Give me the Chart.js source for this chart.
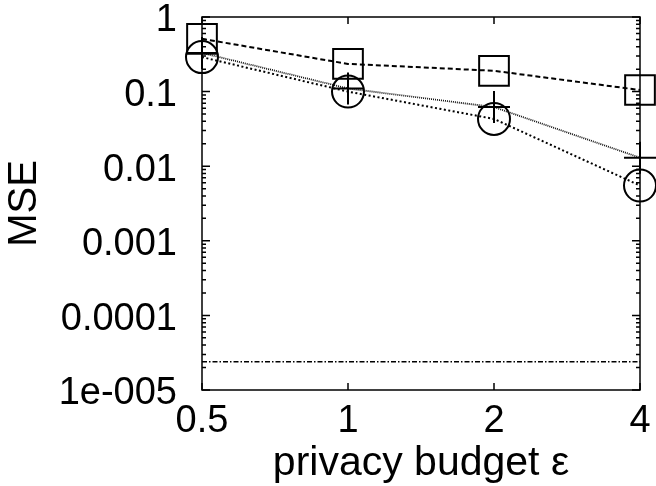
<!DOCTYPE html>
<html>
<head>
<meta charset="utf-8">
<script src="https://cdn.jsdelivr.net/npm/chart.js@4.4.1/dist/chart.umd.min.js"></script>
<style>
  html, body { margin: 0; padding: 0; background: #fff; }
  #wrap { width: 656px; height: 486px; }
</style>
</head>
<body>
<div id="wrap"><canvas id="myChart" width="656" height="486"></canvas></div>
<script>
'use strict';

// privacy budget values on the x axis
let epsilons = ['0.5', '1', '2', '4'];

// MSE per method
let squareMse = [0.51, 0.235, 0.19, 0.105];
let plusMse = [0.33, 0.11, 0.062, 0.013];
let circleMse = [0.29, 0.1, 0.043, 0.0055];
let baselineMse = [2.4e-5, 2.4e-5, 2.4e-5, 2.4e-5];

let yTicks = [1, 0.1, 0.01, 0.001, 0.0001, 0.00001];
let yTickLabels = ['1', '0.1', '0.01', '0.001', '0.0001', '1e-005'];

let fontName = '"Liberation Sans", Arial, Helvetica, sans-serif';

// box around the plot with inward ticks like gnuplot
let framePlugin = {
  id: 'frame',
  afterDatasetsDraw(chart) {
    let ctx = chart.ctx;
    let area = chart.chartArea;
    let xScale = chart.scales.x;
    let yScale = chart.scales.y;
    ctx.save();
    ctx.strokeStyle = '#000';
    ctx.lineWidth = 1.5;
    ctx.strokeRect(area.left, area.top, area.right - area.left, area.bottom - area.top);

    ctx.beginPath();
    for (let i = 0; i < epsilons.length; i++) {
      let x = xScale.getPixelForValue(i);
      ctx.moveTo(x, area.bottom);
      ctx.lineTo(x, area.bottom - 7);
      ctx.moveTo(x, area.top);
      ctx.lineTo(x, area.top + 7);
    }
    for (let d = 0; d < yTicks.length; d++) {
      let base = yTicks[d];
      let y = yScale.getPixelForValue(base);
      ctx.moveTo(area.left, y);
      ctx.lineTo(area.left + 8, y);
      ctx.moveTo(area.right, y);
      ctx.lineTo(area.right - 8, y);
      if (base < 1) {
        for (let m = 2; m <= 9; m++) {
          let ym = yScale.getPixelForValue(base * m);
          ctx.moveTo(area.left, ym);
          ctx.lineTo(area.left + 4, ym);
          ctx.moveTo(area.right, ym);
          ctx.lineTo(area.right - 4, ym);
        }
      }
    }
    ctx.stroke();
    ctx.restore();
  }
};

let ctx = document.getElementById('myChart').getContext('2d');

let data = {
  labels: epsilons,
  datasets: [
    {
      label: 'squares',
      data: squareMse,
      borderColor: '#000',
      borderWidth: 2,
      borderDash: [5, 3],
      pointStyle: 'rect',
      pointRadius: 21,
      pointBorderWidth: 2,
      pointBorderColor: '#000',
      pointBackgroundColor: 'rgba(0,0,0,0)',
    },
    {
      label: 'plus',
      data: plusMse,
      borderColor: '#111',
      borderWidth: 1.8,
      borderDash: [1, 1],
      pointStyle: 'cross',
      pointRadius: 16,
      pointBorderWidth: 2,
      pointBorderColor: '#000',
      pointBackgroundColor: 'rgba(0,0,0,0)',
    },
    {
      label: 'circles',
      data: circleMse,
      borderColor: '#000',
      borderWidth: 2,
      borderDash: [2, 2.5],
      pointStyle: 'circle',
      pointRadius: 16,
      pointBorderWidth: 2,
      pointBorderColor: '#000',
      pointBackgroundColor: 'rgba(0,0,0,0)',
    },
    {
      label: 'baseline',
      data: baselineMse,
      borderColor: '#000',
      borderWidth: 1.5,
      borderDash: [5, 2, 1.5, 2],
      pointRadius: 0,
    },
  ],
};

function noPadding(scale) {
  scale.paddingTop = 0;
  scale.paddingBottom = 0;
  scale.paddingLeft = 0;
  scale.paddingRight = 0;
}

let config = {
  type: 'line',
  data: data,
  plugins: [framePlugin],
  options: {
    responsive: false,
    animation: false,
    layout: { autoPadding: false, padding: { top: 17, right: 16, left: 0, bottom: 0 } },
    plugins: { legend: { display: false }, tooltip: { enabled: false } },
    scales: {
      x: {
        type: 'category',
        offset: false,
        grid: { display: false, drawTicks: false },
        border: { display: false },
        ticks: { color: '#000', padding: 9, maxRotation: 0, font: { family: fontName, size: 38 } },
        title: {
          display: true,
          text: 'privacy budget ε',
          color: '#000',
          font: { family: fontName, size: 41, lineHeight: 1 },
          padding: { top: 0, bottom: 2 },
        },
        afterFit(scale) {
          scale.height = 96;
          noPadding(scale);
        },
      },
      y: {
        type: 'logarithmic',
        min: 0.00001,
        max: 1,
        grid: { display: false, drawTicks: false },
        border: { display: false },
        afterBuildTicks(scale) {
          scale.ticks = yTicks.map((v) => ({ value: v }));
        },
        ticks: {
          color: '#000',
          padding: 25,
          labelOffset: 4,
          font: { family: fontName, size: 38 },
          callback(value) {
            let i = yTicks.findIndex((t) => Math.abs(t - value) / t < 1e-6);
            return i >= 0 ? yTickLabels[i] : '';
          },
        },
        title: {
          display: true,
          text: 'MSE',
          color: '#000',
          font: { family: fontName, size: 40, lineHeight: 1 },
          padding: { top: 5, bottom: 0 },
        },
        afterFit(scale) {
          scale.width = 202;
          noPadding(scale);
        },
      },
    },
  },
};

new Chart(ctx, config);
</script>
</body>
</html>
